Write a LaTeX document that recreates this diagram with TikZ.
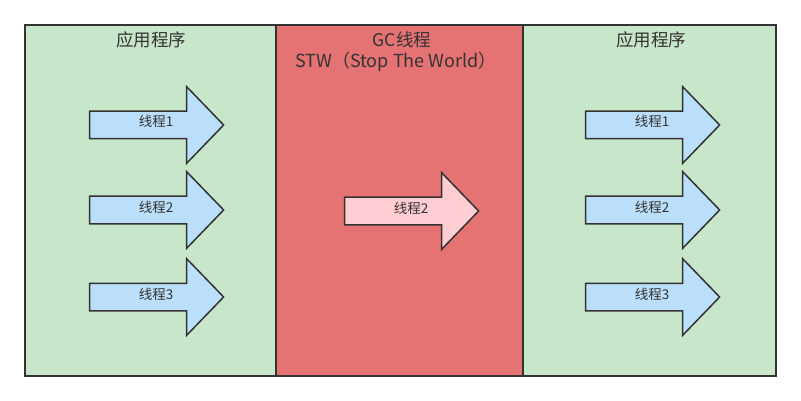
\documentclass[tikz,border=0pt]{standalone}
\usepackage{fontspec}
\setmainfont{Noto Sans CJK SC}
\usetikzlibrary{positioning, shapes.arrows}

\definecolor{appgreen}{HTML}{C8E6C9}
\definecolor{gcred}{HTML}{E57373}
\definecolor{threadblue}{HTML}{BBDEFB}
\definecolor{threadpink}{HTML}{FFCDD2}
\definecolor{edgegray}{HTML}{333333}

\begin{document}
\begin{tikzpicture}[
    x=1pt, y=-1pt,
    % --- Styles ---
    panel/.style={draw=edgegray, fill=#1, line width=1.5pt, minimum height=351pt, inner sep=0pt},
    thread/.style={single arrow, draw=edgegray, fill=#1, line width=1.5pt,
        single arrow head extend=24.5pt, single arrow tip angle=92,
        minimum height=134pt, inner xsep=0pt, inner ysep=7pt,
        text height=8pt, text depth=4pt, text=edgegray,
        execute at begin node={\hspace*{12pt}},
        font=\fontsize{13.5}{15}\selectfont},
    title/.style={text=edgegray, font=\fontsize{17.5}{20}\selectfont, inner sep=0pt},
]
    \useasboundingbox (0,0) rectangle (801,401);

    % ==========================
    % 1. PANELS
    % ==========================
    \node[panel=appgreen, minimum width=251pt] (appL) at (150.5, 200.5) {};
    \node[panel=gcred, minimum width=247pt] (gc) at (399.5, 200.5) {};
    \node[panel=appgreen, minimum width=253pt] (appR) at (649.5, 200.5) {};

    \node[title] (appLtitle) at (151, 40) {应用程序};
    \node[title] (gctitle) at (402, 40) {GC线程};
    \node[title, font=\fontsize{18}{20}\selectfont] (stw) at (396, 62) {STW（Stop The World）};
    \node[title] (appRtitle) at (651, 40) {应用程序};

    % ==========================
    % 2. THREADS (Left)
    % ==========================
    \node[thread=threadblue] (tL1) at (150, 125) {线程1};
    \node[thread=threadblue] (tL2) at (150, 210) {线程2};
    \node[thread=threadblue] (tL3) at (150, 297) {线程3};

    % ==========================
    % 3. GC THREAD
    % ==========================
    \node[thread=threadpink] (tGC) at (405, 211) {线程2};

    % ==========================
    % 4. THREADS (Right)
    % ==========================
    \node[thread=threadblue] (tR1) at (646, 125) {线程1};
    \node[thread=threadblue] (tR2) at (646, 210) {线程2};
    \node[thread=threadblue] (tR3) at (646, 297) {线程3};

\end{tikzpicture}
\end{document}
